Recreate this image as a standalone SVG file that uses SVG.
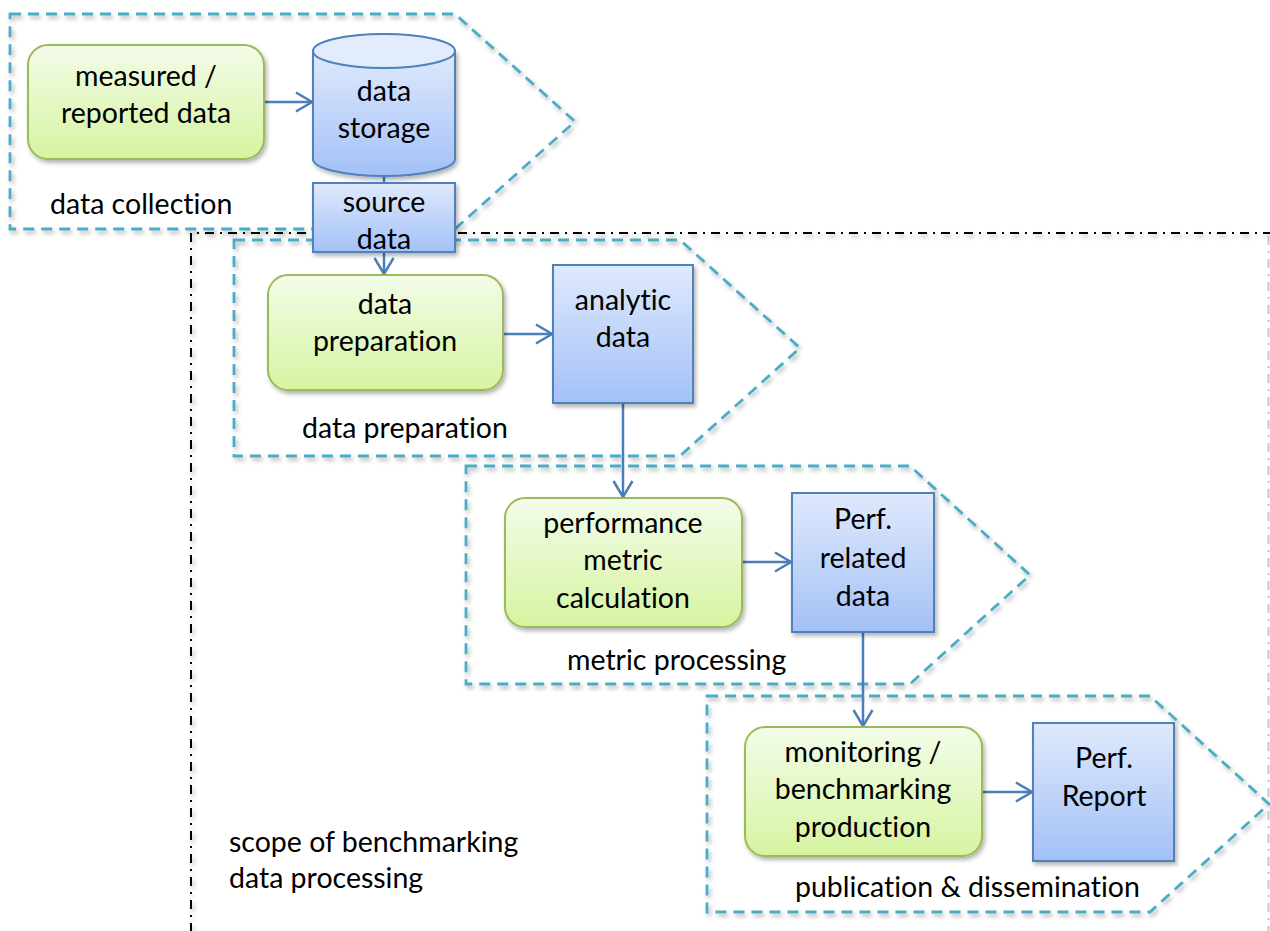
<svg xmlns="http://www.w3.org/2000/svg" width="1270" height="931" viewBox="0 0 1270 931">
<style>
  text { font-family: Lato, "Open Sans", "Liberation Sans", sans-serif; font-size: 28.5px; fill: #000; font-variant-ligatures: none; font-feature-settings: "liga" 0, "clig" 0; }
  .c { text-anchor: middle; }
  .phase { fill: none; stroke: #4bacc6; stroke-width: 2.8; stroke-dasharray: 11 7; filter: url(#dshadow); }
  .green { fill: url(#gGreen); stroke: #9bbb59; stroke-width: 2; filter: url(#shadow); }
  .blue { fill: url(#gBlue); stroke: #4f81bd; stroke-width: 2; filter: url(#shadow); }
  .conn { fill: none; stroke: #4a7ebb; stroke-width: 2.5; }
  .frame { fill: none; stroke: #000; stroke-width: 2; stroke-dasharray: 9 6 2 6; filter: url(#dshadow); }
</style>
<defs>
  <linearGradient id="gGreen" x1="0" y1="0" x2="0" y2="1">
    <stop offset="0" stop-color="#f3fce9"/>
    <stop offset="1" stop-color="#d6f4a0"/>
  </linearGradient>
  <linearGradient id="gBlue" x1="0" y1="0" x2="0" y2="1">
    <stop offset="0" stop-color="#dfe9fd"/>
    <stop offset="1" stop-color="#a3c1f6"/>
  </linearGradient>
  <filter id="shadow" x="-10%" y="-10%" width="125%" height="130%">
    <feGaussianBlur in="SourceAlpha" stdDeviation="2"/>
    <feOffset dx="1.5" dy="3" result="b"/>
    <feFlood flood-color="#000" flood-opacity="0.3"/>
    <feComposite in2="b" operator="in"/>
    <feMerge><feMergeNode/><feMergeNode in="SourceGraphic"/></feMerge>
  </filter>
  <filter id="dshadow" x="-5%" y="-5%" width="115%" height="115%">
    <feGaussianBlur in="SourceAlpha" stdDeviation="2"/>
    <feOffset dx="2" dy="3" result="b"/>
    <feFlood flood-color="#000" flood-opacity="0.3"/>
    <feComposite in2="b" operator="in"/>
    <feMerge><feMergeNode/><feMergeNode in="SourceGraphic"/></feMerge>
  </filter>
  <marker id="arr" viewBox="-18 -12 20 24" refX="0" refY="0" markerWidth="20" markerHeight="24" orient="auto" markerUnits="userSpaceOnUse">
    <path d="M-16,-9.5 L0,0 L-16,9.5" fill="none" stroke="#4a7ebb" stroke-width="2.5"/>
  </marker>
</defs>
<rect x="0" y="0" width="1270" height="931" fill="#fff"/>

<!-- scope frame -->
<g id="scope-frame">
  <path class="frame" d="M1272,233 H191 V935"/>
  <line x1="1268.5" y1="236" x2="1268.5" y2="931" stroke="#c8c8c8" stroke-width="2" stroke-dasharray="9 6 2 6"/>
  <text x="229" y="852">scope of benchmarking</text>
  <text x="229" y="888">data processing</text>
</g>

<!-- phases -->
<g id="phase-collection">
  <path class="phase" d="M10,14 H455 L575,121.5 L455,229 H10 Z"/>
  <text x="50" y="214">data collection</text>
</g>
<g id="phase-preparation">
  <path class="phase" d="M234,240 H680 L800,348 L680,456 H234 Z"/>
  <text x="302" y="438">data preparation</text>
</g>
<g id="phase-metric">
  <path class="phase" d="M466,466 H910 L1030,575 L910,684 H466 Z"/>
  <text x="567" y="670">metric processing</text>
</g>
<g id="phase-publication">
  <path class="phase" d="M707,696 H1150 L1269,804 L1150,912 H707 Z"/>
  <text x="795" y="897">publication &amp; dissemination</text>
</g>

<!-- connectors -->
<g id="connectors">
  <line class="conn" x1="263" y1="102" x2="312" y2="102" marker-end="url(#arr)"/>
  <line class="conn" x1="384" y1="175" x2="384" y2="183"/>
  <line class="conn" x1="384" y1="252" x2="384" y2="274" marker-end="url(#arr)"/>
  <line class="conn" x1="503" y1="334" x2="552" y2="334" marker-end="url(#arr)"/>
  <line class="conn" x1="623" y1="403" x2="623" y2="497" marker-end="url(#arr)"/>
  <line class="conn" x1="742" y1="562" x2="791" y2="562" marker-end="url(#arr)"/>
  <line class="conn" x1="863" y1="632" x2="863" y2="726" marker-end="url(#arr)"/>
  <line class="conn" x1="982" y1="792" x2="1032" y2="792" marker-end="url(#arr)"/>
</g>

<!-- nodes -->
<g id="measured-data">
  <rect class="green" x="28" y="45" width="236" height="114" rx="20"/>
  <text class="c" x="146" y="86">measured /</text>
  <text class="c" x="146" y="123">reported data</text>
</g>
<g id="data-storage">
  <path class="blue" d="M313,51 V159 A71,17 0 0 0 455,159 V51 Z"/>
  <ellipse cx="384" cy="51" rx="71" ry="17" fill="#e3ecfd" stroke="#4f81bd" stroke-width="2"/>
  <text class="c" x="384" y="101">data</text>
  <text class="c" x="384" y="138">storage</text>
</g>
<g id="source-data">
  <rect class="blue" x="313" y="183" width="142" height="69"/>
  <text class="c" x="384" y="212">source</text>
  <text class="c" x="384" y="249">data</text>
</g>
<g id="data-preparation">
  <rect class="green" x="268" y="275" width="235" height="115" rx="20"/>
  <text class="c" x="385" y="314">data</text>
  <text class="c" x="385" y="351">preparation</text>
</g>
<g id="analytic-data">
  <rect class="blue" x="553" y="265" width="140" height="138"/>
  <text class="c" x="623" y="310">analytic</text>
  <text class="c" x="623" y="347">data</text>
</g>
<g id="metric-calculation">
  <rect class="green" x="505" y="498" width="237" height="129" rx="20"/>
  <text class="c" x="623" y="533">performance</text>
  <text class="c" x="623" y="570">metric</text>
  <text class="c" x="623" y="608">calculation</text>
</g>
<g id="perf-related-data">
  <rect class="blue" x="792" y="493" width="142" height="139"/>
  <text class="c" x="863" y="529">Perf.</text>
  <text class="c" x="863" y="568">related</text>
  <text class="c" x="863" y="606">data</text>
</g>
<g id="benchmarking-production">
  <rect class="green" x="745" y="727" width="237" height="129" rx="20"/>
  <text class="c" x="863" y="762">monitoring /</text>
  <text class="c" x="863" y="799">benchmarking</text>
  <text class="c" x="863" y="837">production</text>
</g>
<g id="perf-report">
  <rect class="blue" x="1033" y="723" width="141" height="138"/>
  <text class="c" x="1104" y="768">Perf.</text>
  <text class="c" x="1104" y="806">Report</text>
</g>
</svg>
